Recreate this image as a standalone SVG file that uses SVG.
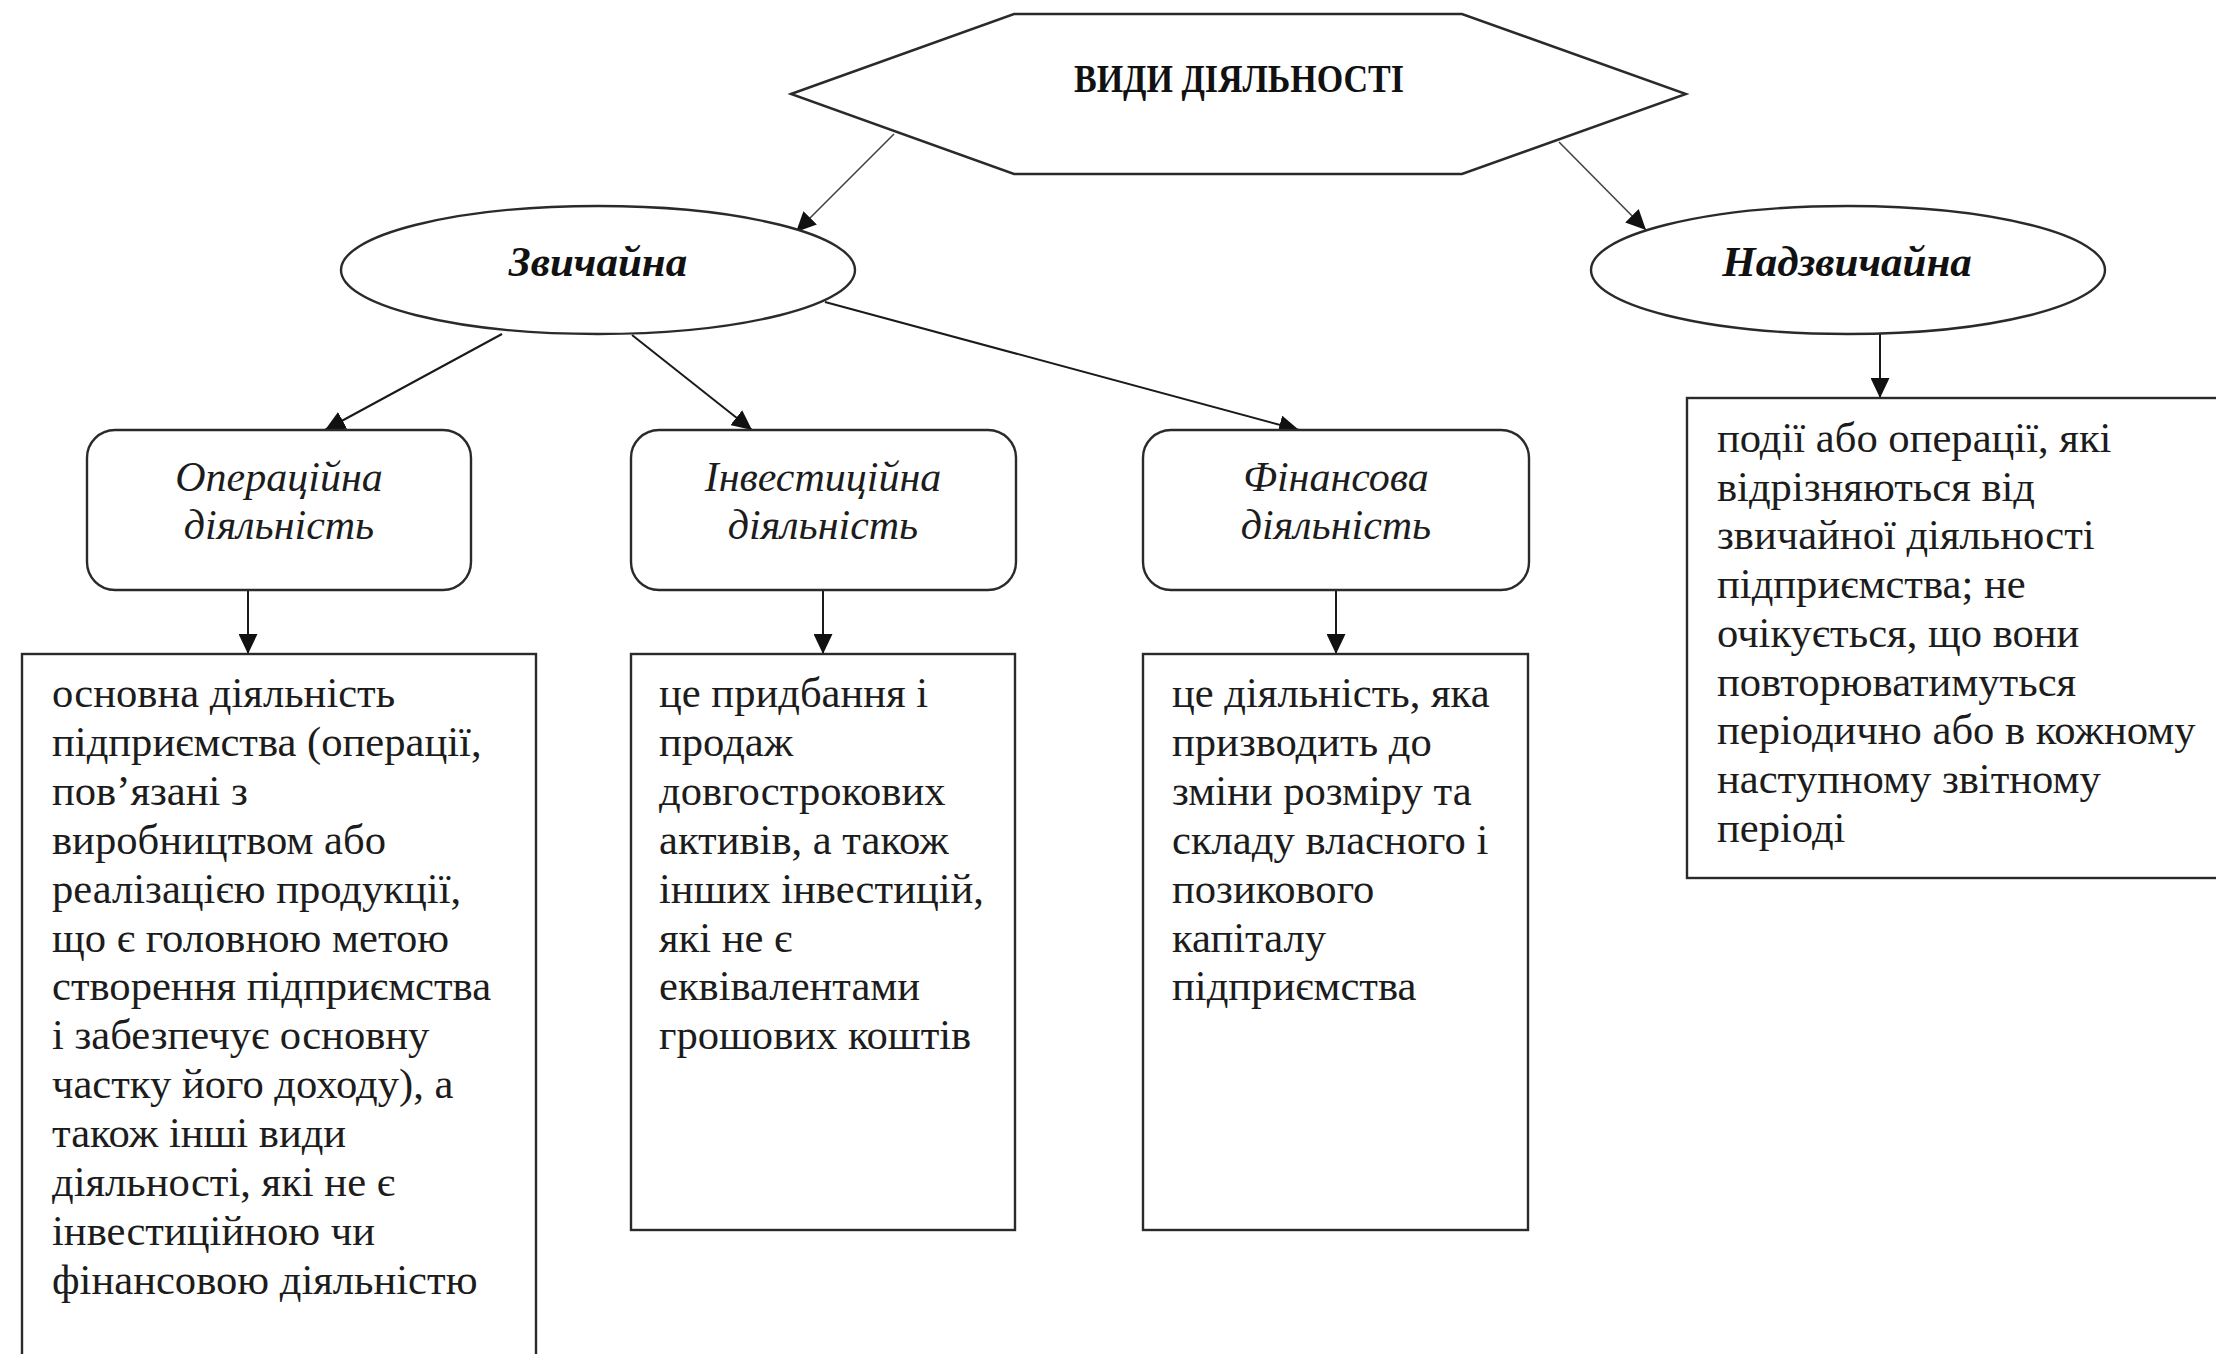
<svg xmlns="http://www.w3.org/2000/svg" width="2216" height="1354" viewBox="0 0 2216 1354">
<defs>
<style>
.shape{fill:#fff;stroke:#2a2a2a;stroke-width:2.4}
.con{fill:none;stroke:#1a1a1a;stroke-width:2}
.thin{fill:none;stroke:#444;stroke-width:1.6}
.body{font-family:"Liberation Serif","Times New Roman",serif;font-size:42.6px;fill:#1c1c1c}
.lbl{font-family:"Liberation Serif","Times New Roman",serif;font-size:42px;font-style:italic;fill:#1c1c1c;text-anchor:middle}
.elab{font-family:"Liberation Serif","Times New Roman",serif;font-size:43px;font-style:italic;font-weight:bold;fill:#111;text-anchor:middle}
.title{font-family:"Liberation Serif","Times New Roman",serif;font-size:41px;font-weight:bold;fill:#111;text-anchor:middle}
</style>
<marker id="arr" markerUnits="userSpaceOnUse" markerWidth="21" markerHeight="19" refX="20" refY="9.5" orient="auto">
<path d="M0,0 L20,9.5 L0,19 z" fill="#111"/>
</marker>
</defs>

<g id="connectors">
<line class="thin" x1="894" y1="134" x2="796" y2="232" marker-end="url(#arr)"/>
<line class="thin" x1="1559" y1="142" x2="1646" y2="230" marker-end="url(#arr)"/>
<line class="con" x1="502" y1="334" x2="325" y2="430" marker-end="url(#arr)"/>
<line class="con" x1="632" y1="335" x2="752" y2="430" marker-end="url(#arr)"/>
<line class="con" x1="825" y1="302" x2="1299" y2="430" marker-end="url(#arr)"/>
<line class="con" x1="248" y1="590" x2="248" y2="654" marker-end="url(#arr)"/>
<line class="con" x1="823" y1="590" x2="823" y2="654" marker-end="url(#arr)"/>
<line class="con" x1="1336" y1="590" x2="1336" y2="654" marker-end="url(#arr)"/>
<line class="con" x1="1880" y1="334" x2="1880" y2="398" marker-end="url(#arr)"/>
</g>

<g id="root">
<polygon class="shape" points="791,94 1014,14 1462,14 1686,94 1462,174 1014,174"/>
<text class="title" x="1239" y="92" textLength="330" lengthAdjust="spacingAndGlyphs">ВИДИ ДІЯЛЬНОСТІ</text>
</g>

<g id="ordinary">
<ellipse class="shape" cx="598" cy="270" rx="257" ry="64"/>
<text class="elab" x="598" y="276">Звичайна</text>
</g>

<g id="extraordinary">
<ellipse class="shape" cx="1848" cy="270" rx="257" ry="64"/>
<text class="elab" x="1847" y="276">Надзвичайна</text>
</g>

<g id="operating">
<rect class="shape" x="87" y="430" width="384" height="160" rx="28"/>
<text class="lbl" x="279" y="491">Операційна</text>
<text class="lbl" x="279" y="539">діяльність</text>
</g>

<g id="investing">
<rect class="shape" x="631" y="430" width="385" height="160" rx="28"/>
<text class="lbl" x="823" y="491">Інвестиційна</text>
<text class="lbl" x="823" y="539">діяльність</text>
</g>

<g id="financing">
<rect class="shape" x="1143" y="430" width="386" height="160" rx="28"/>
<text class="lbl" x="1336" y="491">Фінансова</text>
<text class="lbl" x="1336" y="539">діяльність</text>
</g>

<g id="operating-desc">
<rect class="shape" x="22" y="654" width="514" height="720"/>
<text class="body">
<tspan x="52" y="707">основна діяльність</tspan>
<tspan x="52" y="755.9">підприємства (операції,</tspan>
<tspan x="52" y="804.8">пов’язані з</tspan>
<tspan x="52" y="853.7">виробництвом або</tspan>
<tspan x="52" y="902.6">реалізацією продукції,</tspan>
<tspan x="52" y="951.5">що є головною метою</tspan>
<tspan x="52" y="1000.4">створення підприємства</tspan>
<tspan x="52" y="1049.3">і забезпечує основну</tspan>
<tspan x="52" y="1098.2">частку його доходу), а</tspan>
<tspan x="52" y="1147.1">також інші види</tspan>
<tspan x="52" y="1196">діяльності, які не є</tspan>
<tspan x="52" y="1244.9">інвестиційною чи</tspan>
<tspan x="52" y="1293.8">фінансовою діяльністю</tspan>
</text>
</g>

<g id="investing-desc">
<rect class="shape" x="631" y="654" width="384" height="576"/>
<text class="body">
<tspan x="659" y="707">це придбання і</tspan>
<tspan x="659" y="755.9">продаж</tspan>
<tspan x="659" y="804.8">довгострокових</tspan>
<tspan x="659" y="853.7">активів, а також</tspan>
<tspan x="659" y="902.6">інших інвестицій,</tspan>
<tspan x="659" y="951.5">які не є</tspan>
<tspan x="659" y="1000.4">еквівалентами</tspan>
<tspan x="659" y="1049.3">грошових коштів</tspan>
</text>
</g>

<g id="financing-desc">
<rect class="shape" x="1143" y="654" width="385" height="576"/>
<text class="body">
<tspan x="1172" y="707">це діяльність, яка</tspan>
<tspan x="1172" y="755.9">призводить до</tspan>
<tspan x="1172" y="804.8">зміни розміру та</tspan>
<tspan x="1172" y="853.7">складу власного і</tspan>
<tspan x="1172" y="902.6">позикового</tspan>
<tspan x="1172" y="951.5">капіталу</tspan>
<tspan x="1172" y="1000.4">підприємства</tspan>
</text>
</g>

<g id="extraordinary-desc">
<rect class="shape" x="1687" y="398" width="560" height="480"/>
<text class="body">
<tspan x="1717" y="452">події або операції, які</tspan>
<tspan x="1717" y="500.7">відрізняються від</tspan>
<tspan x="1717" y="549.4">звичайної діяльності</tspan>
<tspan x="1717" y="598.1">підприємства; не</tspan>
<tspan x="1717" y="646.8">очікується, що вони</tspan>
<tspan x="1717" y="695.5">повторюватимуться</tspan>
<tspan x="1717" y="744.2">періодично або в кожному</tspan>
<tspan x="1717" y="792.9">наступному звітному</tspan>
<tspan x="1717" y="841.6">періоді</tspan>
</text>
</g>
</svg>
